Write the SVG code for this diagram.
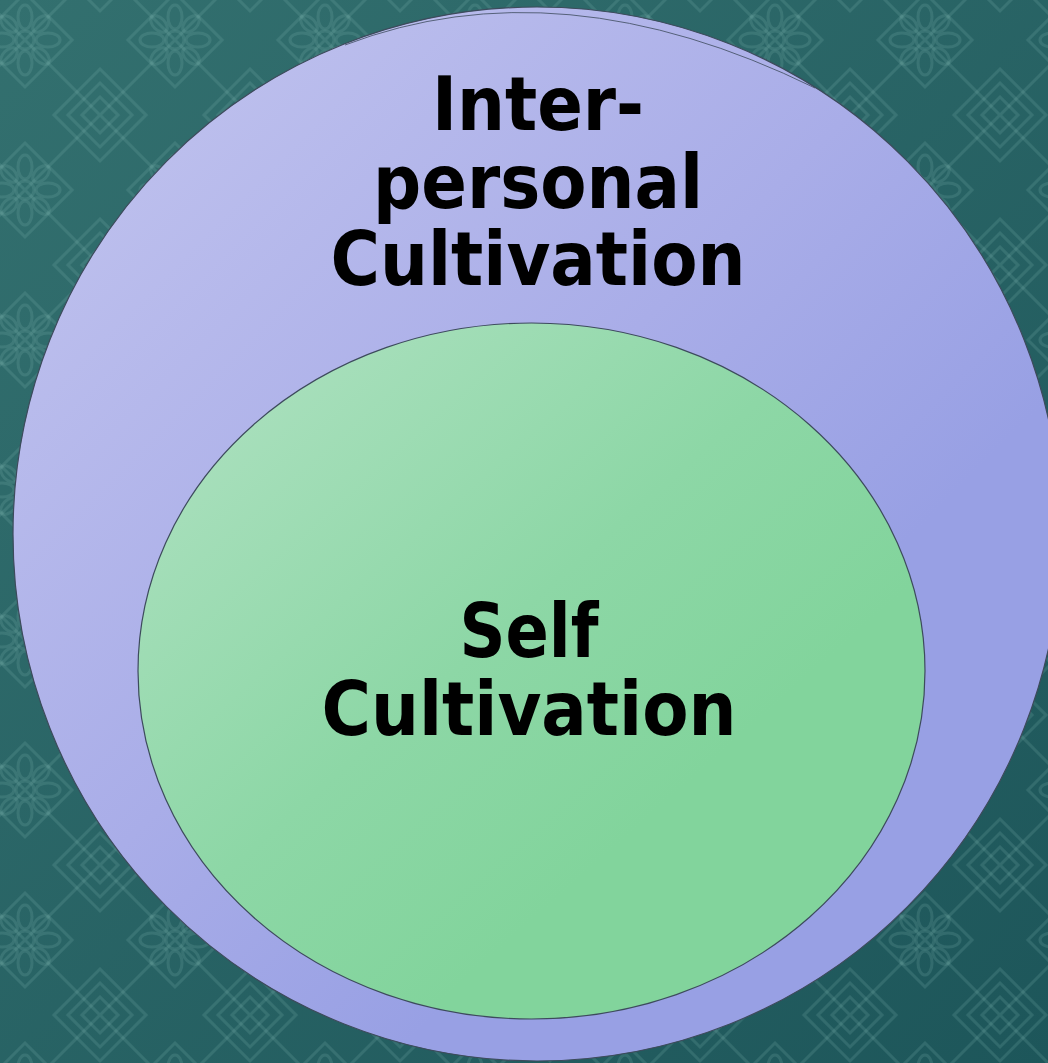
<svg xmlns="http://www.w3.org/2000/svg" width="1048" height="1063" viewBox="0 0 1048 1063">
  <defs>
    <linearGradient id="bgGrad" x1="0" y1="0" x2="1" y2="1">
      <stop offset="0" stop-color="#33706f"/>
      <stop offset="1" stop-color="#1d565a"/>
    </linearGradient>
    <pattern id="damask" width="150" height="150" patternUnits="userSpaceOnUse" patternTransform="translate(-50,-35)">
      <g fill="none" stroke="#7fb3b0" stroke-opacity="0.2" stroke-width="3">
        <circle cx="75" cy="75" r="9"/>
        <ellipse cx="75" cy="52" rx="7" ry="12"/>
        <ellipse cx="75" cy="98" rx="7" ry="12"/>
        <ellipse cx="52" cy="75" rx="12" ry="7"/>
        <ellipse cx="98" cy="75" rx="12" ry="7"/>
        <ellipse cx="59" cy="59" rx="6" ry="10" transform="rotate(-45 59 59)"/>
        <ellipse cx="91" cy="91" rx="6" ry="10" transform="rotate(-45 91 91)"/>
        <ellipse cx="91" cy="59" rx="6" ry="10" transform="rotate(45 91 59)"/>
        <ellipse cx="59" cy="91" rx="6" ry="10" transform="rotate(45 59 91)"/>
        <path d="M75 28 L122 75 L75 122 L28 75 Z"/>
        <path d="M0 -18 L18 0 L0 18 L-18 0 Z M150 -18 L168 0 L150 18 L132 0 Z M0 132 L18 150 L0 168 L-18 150 Z M150 132 L168 150 L150 168 L132 150 Z"/>
        <path d="M0 -32 L32 0 L0 32 L-32 0 Z M150 -32 L182 0 L150 32 L118 0 Z M0 118 L32 150 L0 182 L-32 150 Z M150 118 L182 150 L150 182 L118 150 Z"/>
        <path d="M0 -46 L46 0 L0 46 L-46 0 Z M150 -46 L196 0 L150 46 L104 0 Z M0 104 L46 150 L0 196 L-46 150 Z M150 104 L196 150 L150 196 L104 150 Z"/>
        <path d="M0 0 L150 150 M150 0 L0 150"/>
      </g>
    </pattern>
    <linearGradient id="outerGrad" x1="0" y1="0" x2="1" y2="1">
      <stop offset="0" stop-color="#c4c6ef"/>
      <stop offset="0.45" stop-color="#a9ade8"/>
      <stop offset="0.68" stop-color="#98a0e4"/>
      <stop offset="1" stop-color="#98a0e4"/>
    </linearGradient>
    <linearGradient id="innerGrad" x1="0" y1="0" x2="1" y2="1">
      <stop offset="0" stop-color="#b2e2c4"/>
      <stop offset="0.45" stop-color="#8dd7a6"/>
      <stop offset="0.68" stop-color="#82d49c"/>
      <stop offset="1" stop-color="#82d49c"/>
    </linearGradient>
    <style>
      .shape { stroke: #3d4b5c; stroke-width: 1.2; }
      .label { font-family: "DejaVu Sans Condensed", "DejaVu Sans", sans-serif; font-weight: bold; font-stretch: condensed; font-size: 75px; fill: #000000; text-anchor: middle; }
    </style>
  </defs>

  <rect x="0" y="0" width="1048" height="1063" fill="url(#bgGrad)"/>
  <rect x="0" y="0" width="1048" height="1063" fill="url(#damask)"/>

  <g id="node-interpersonal">
    <ellipse class="shape" cx="537" cy="534" rx="524" ry="527" fill="url(#outerGrad)"/>
    <path d="M345 45 Q560 -37 815 88" fill="none" stroke="#3d4b5c" stroke-width="1" stroke-opacity="0.8"/>
    <text class="label" x="538" y="130" textLength="212" lengthAdjust="spacingAndGlyphs">Inter-</text>
    <text class="label" x="538" y="208" textLength="330" lengthAdjust="spacingAndGlyphs">personal</text>
    <text class="label" x="538" y="285" textLength="415" lengthAdjust="spacingAndGlyphs">Cultivation</text>
  </g>

  <g id="node-self">
    <ellipse class="shape" cx="531.5" cy="671" rx="393.5" ry="348" fill="url(#innerGrad)"/>
    <text class="label" x="529" y="657" textLength="139" lengthAdjust="spacingAndGlyphs">Self</text>
    <text class="label" x="529" y="735" textLength="415" lengthAdjust="spacingAndGlyphs">Cultivation</text>
  </g>

  <g id="connectors"/>
</svg>
